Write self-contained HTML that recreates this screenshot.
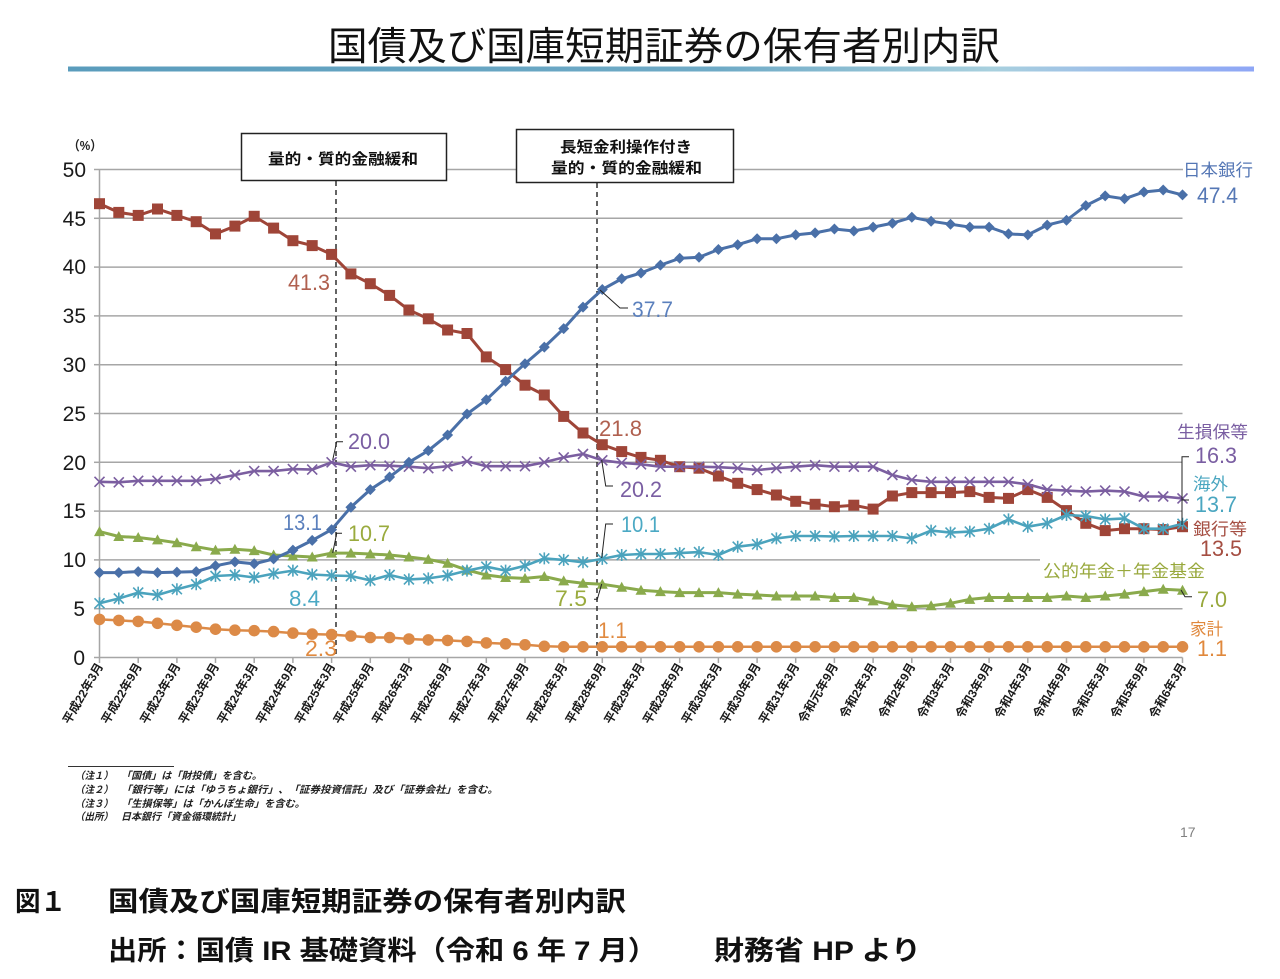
<!DOCTYPE html>
<html><head><meta charset="utf-8"><style>
html,body{margin:0;padding:0;background:#fff;}
svg{display:block;}
.jp{font-family:"Liberation Sans","Noto Sans CJK JP",sans-serif;}
.num{font-family:"Liberation Sans",sans-serif;}
</style></head><body>
<svg width="1280" height="979" viewBox="0 0 1280 979" xmlns="http://www.w3.org/2000/svg">
<defs>
<linearGradient id="bar" x1="0" x2="1" y1="0" y2="0">
<stop offset="0" stop-color="#5a9cbc"/><stop offset="0.55" stop-color="#6eaac6"/><stop offset="0.78" stop-color="#a8d0de"/><stop offset="1" stop-color="#8ea6f6"/>
</linearGradient>
<marker id="mSq" markerUnits="userSpaceOnUse" markerWidth="14" markerHeight="14" refX="7" refY="7" overflow="visible"><rect x="1.5" y="1.5" width="11" height="11" fill="#9f4538"/></marker>
<marker id="mDi" markerUnits="userSpaceOnUse" markerWidth="14" markerHeight="14" refX="7" refY="7" overflow="visible"><path d="M7 1.5 L12.5 7 L7 12.5 L1.5 7 Z" fill="#4a70a8"/></marker>
<marker id="mCi" markerUnits="userSpaceOnUse" markerWidth="14" markerHeight="14" refX="7" refY="7" overflow="visible"><circle cx="7" cy="7" r="5.8" fill="#dc8a47"/></marker>
<marker id="mTr" markerUnits="userSpaceOnUse" markerWidth="14" markerHeight="14" refX="7" refY="7" overflow="visible"><path d="M7 1.5 L12.5 11.5 L1.5 11.5 Z" fill="#8aaa4c"/></marker>
<marker id="mX" markerUnits="userSpaceOnUse" markerWidth="14" markerHeight="14" refX="7" refY="7" overflow="visible"><path d="M2 2 L12 12 M2 12 L12 2" stroke="#7b5ea0" stroke-width="1.6" fill="none"/></marker>
<marker id="mAs" markerUnits="userSpaceOnUse" markerWidth="14" markerHeight="14" refX="7" refY="7" overflow="visible"><path d="M2 2 L12 12 M2 12 L12 2 M7 1 L7 13" stroke="#4ba3bd" stroke-width="1.6" fill="none"/></marker>
</defs>

<!-- Title -->
<text x="328" y="60" class="jp" font-size="39" fill="#111" textLength="672" lengthAdjust="spacingAndGlyphs">国債及び国庫短期証券の保有者別内訳</text>
<rect x="68" y="66.5" width="1186" height="5" fill="url(#bar)"/>

<!-- gridlines -->
<g stroke="#a6a6a6" stroke-width="1.5">
<line x1="99.5" y1="608.7" x2="1182.5" y2="608.7"/>
<line x1="99.5" y1="559.9" x2="1040" y2="559.9"/>
<line x1="99.5" y1="511.1" x2="1182.5" y2="511.1"/>
<line x1="99.5" y1="462.3" x2="1182.5" y2="462.3"/>
<line x1="99.5" y1="413.5" x2="1182.5" y2="413.5"/>
<line x1="99.5" y1="364.7" x2="1182.5" y2="364.7"/>
<line x1="99.5" y1="315.9" x2="1182.5" y2="315.9"/>
<line x1="99.5" y1="267.1" x2="1182.5" y2="267.1"/>
<line x1="99.5" y1="218.3" x2="1182.5" y2="218.3"/>
<line x1="99.5" y1="169.5" x2="1183" y2="169.5"/>
<line x1="99.5" y1="169.5" x2="99.5" y2="657.5"/>
<line x1="99.5" y1="657.5" x2="1182.5" y2="657.5"/>
<line x1="94" y1="657.5" x2="99.5" y2="657.5"/><line x1="94" y1="608.7" x2="99.5" y2="608.7"/><line x1="94" y1="559.9" x2="99.5" y2="559.9"/><line x1="94" y1="511.1" x2="99.5" y2="511.1"/><line x1="94" y1="462.3" x2="99.5" y2="462.3"/><line x1="94" y1="413.5" x2="99.5" y2="413.5"/><line x1="94" y1="364.7" x2="99.5" y2="364.7"/><line x1="94" y1="315.9" x2="99.5" y2="315.9"/><line x1="94" y1="267.1" x2="99.5" y2="267.1"/><line x1="94" y1="218.3" x2="99.5" y2="218.3"/><line x1="94" y1="169.5" x2="99.5" y2="169.5"/>
</g>
<g stroke="#a6a6a6" stroke-width="1.5">
<line x1="99.5" y1="657.5" x2="99.5" y2="663"/><line x1="138.2" y1="657.5" x2="138.2" y2="663"/><line x1="176.9" y1="657.5" x2="176.9" y2="663"/><line x1="215.5" y1="657.5" x2="215.5" y2="663"/><line x1="254.2" y1="657.5" x2="254.2" y2="663"/><line x1="292.9" y1="657.5" x2="292.9" y2="663"/><line x1="331.6" y1="657.5" x2="331.6" y2="663"/><line x1="370.3" y1="657.5" x2="370.3" y2="663"/><line x1="408.9" y1="657.5" x2="408.9" y2="663"/><line x1="447.6" y1="657.5" x2="447.6" y2="663"/><line x1="486.3" y1="657.5" x2="486.3" y2="663"/><line x1="525" y1="657.5" x2="525" y2="663"/><line x1="563.7" y1="657.5" x2="563.7" y2="663"/><line x1="602.3" y1="657.5" x2="602.3" y2="663"/><line x1="641" y1="657.5" x2="641" y2="663"/><line x1="679.7" y1="657.5" x2="679.7" y2="663"/><line x1="718.4" y1="657.5" x2="718.4" y2="663"/><line x1="757.1" y1="657.5" x2="757.1" y2="663"/><line x1="795.7" y1="657.5" x2="795.7" y2="663"/><line x1="834.4" y1="657.5" x2="834.4" y2="663"/><line x1="873.1" y1="657.5" x2="873.1" y2="663"/><line x1="911.8" y1="657.5" x2="911.8" y2="663"/><line x1="950.5" y1="657.5" x2="950.5" y2="663"/><line x1="989.1" y1="657.5" x2="989.1" y2="663"/><line x1="1027.8" y1="657.5" x2="1027.8" y2="663"/><line x1="1066.5" y1="657.5" x2="1066.5" y2="663"/><line x1="1105.2" y1="657.5" x2="1105.2" y2="663"/><line x1="1143.9" y1="657.5" x2="1143.9" y2="663"/><line x1="1182.5" y1="657.5" x2="1182.5" y2="663"/>
</g>

<!-- y labels -->
<g class="num" font-size="21" fill="#1a1a1a" text-anchor="end">
<text x="85" y="665">0</text><text x="85" y="616">5</text><text x="86" y="567">10</text><text x="86" y="518">15</text><text x="86" y="470">20</text><text x="86" y="421">25</text><text x="86" y="372">30</text><text x="86" y="323">35</text><text x="86" y="274">40</text><text x="86" y="226">45</text><text x="86" y="177">50</text>
</g>
<text x="68" y="150" class="jp" font-size="13" font-weight="bold" fill="#222" textLength="34" lengthAdjust="spacingAndGlyphs">（%）</text>

<!-- dashed event lines -->
<g stroke="#222" stroke-width="1.4" stroke-dasharray="5,4">
<line x1="336" y1="181" x2="336" y2="657"/>
<line x1="597" y1="183" x2="597" y2="657"/>
</g>
<!-- boxes -->
<rect x="241.5" y="133.5" width="205" height="47" fill="#fff" stroke="#222" stroke-width="1.5"/>
<text x="268" y="164" class="jp" font-size="15" font-weight="bold" fill="#111" textLength="150" lengthAdjust="spacingAndGlyphs">量的・質的金融緩和</text>
<rect x="516.5" y="129.5" width="217" height="53" fill="#fff" stroke="#222" stroke-width="1.5"/>
<text x="560" y="152" class="jp" font-size="15" font-weight="bold" fill="#111" textLength="132" lengthAdjust="spacingAndGlyphs">長短金利操作付き</text>
<text x="551" y="173" class="jp" font-size="15" font-weight="bold" fill="#111" textLength="151" lengthAdjust="spacingAndGlyphs">量的・質的金融緩和</text>

<!-- series -->
<polyline fill="none" stroke="#dc8a47" stroke-width="2.5" marker-start="url(#mCi)" marker-mid="url(#mCi)" marker-end="url(#mCi)" points="99.5,619.4 118.8,620.4 138.2,621.4 157.5,623.3 176.9,625.3 196.2,627.2 215.5,629.2 234.9,630.2 254.2,630.7 273.6,631.6 292.9,633.1 312.2,634.1 331.6,634.6 350.9,636.0 370.3,637.5 389.6,637.5 408.9,639.0 428.3,639.9 447.6,640.4 467.0,641.4 486.3,642.9 505.6,643.8 525.0,644.8 544.3,646.3 563.7,646.8 583.0,646.8 602.3,646.8 621.7,646.8 641.0,646.8 660.4,646.8 679.7,646.8 699.0,646.8 718.4,646.8 737.7,646.8 757.1,646.8 776.4,646.8 795.7,646.8 815.1,646.8 834.4,646.8 853.8,646.8 873.1,646.8 892.4,646.8 911.8,646.8 931.1,646.8 950.5,646.8 969.8,646.8 989.1,646.8 1008.5,646.8 1027.8,646.8 1047.2,646.8 1066.5,646.8 1085.8,646.8 1105.2,646.8 1124.5,646.8 1143.9,646.8 1163.2,646.8 1182.5,646.8"/>
<polyline fill="none" stroke="#8aaa4c" stroke-width="3" marker-start="url(#mTr)" marker-mid="url(#mTr)" marker-end="url(#mTr)" points="99.5,531.6 118.8,536.5 138.2,537.5 157.5,539.9 176.9,542.8 196.2,546.7 215.5,550.1 234.9,549.2 254.2,550.6 273.6,555.0 292.9,556.0 312.2,557.0 331.6,553.1 350.9,553.1 370.3,554.0 389.6,555.0 408.9,557.0 428.3,559.4 447.6,563.3 467.0,570.1 486.3,575.0 505.6,577.5 525.0,578.4 544.3,576.5 563.7,580.9 583.0,583.3 602.3,584.3 621.7,587.2 641.0,590.2 660.4,591.6 679.7,592.6 699.0,592.6 718.4,592.6 737.7,594.1 757.1,595.0 776.4,596.0 795.7,596.0 815.1,596.0 834.4,597.5 853.8,597.5 873.1,600.9 892.4,604.8 911.8,606.7 931.1,605.8 950.5,603.3 969.8,599.4 989.1,597.5 1008.5,597.5 1027.8,597.5 1047.2,597.5 1066.5,596.0 1085.8,597.5 1105.2,596.0 1124.5,594.1 1143.9,591.6 1163.2,589.2 1182.5,590.2"/>
<polyline fill="none" stroke="#9f4538" stroke-width="3" marker-start="url(#mSq)" marker-mid="url(#mSq)" marker-end="url(#mSq)" points="99.5,203.7 118.8,212.4 138.2,215.4 157.5,209.0 176.9,215.4 196.2,221.7 215.5,233.9 234.9,226.1 254.2,216.3 273.6,228.1 292.9,240.7 312.2,245.6 331.6,254.4 350.9,273.9 370.3,283.7 389.6,295.4 408.9,310.0 428.3,318.8 447.6,330.0 467.0,333.5 486.3,356.9 505.6,369.6 525.0,385.2 544.3,395.0 563.7,416.4 583.0,433.0 602.3,444.7 621.7,451.6 641.0,457.4 660.4,460.3 679.7,466.7 699.0,468.2 718.4,476.0 737.7,483.3 757.1,489.6 776.4,495.0 795.7,501.3 815.1,504.3 834.4,506.7 853.8,505.2 873.1,509.1 892.4,496.0 911.8,492.6 931.1,492.6 950.5,492.6 969.8,491.6 989.1,497.4 1008.5,498.4 1027.8,489.6 1047.2,497.4 1066.5,510.6 1085.8,523.3 1105.2,530.6 1124.5,528.7 1143.9,528.7 1163.2,529.6 1182.5,526.7"/>
<polyline fill="none" stroke="#7b5ea0" stroke-width="2.6" stroke-linejoin="round" marker-start="url(#mX)" marker-mid="url(#mX)" marker-end="url(#mX)" points="99.5,481.8 118.8,482.3 138.2,480.8 157.5,480.8 176.9,480.8 196.2,480.8 215.5,478.9 234.9,475.0 254.2,471.1 273.6,471.1 292.9,469.1 312.2,469.6 331.6,462.3 350.9,466.7 370.3,465.2 389.6,465.7 408.9,466.7 428.3,468.2 447.6,466.2 467.0,461.3 486.3,466.2 505.6,466.2 525.0,466.2 544.3,462.3 563.7,457.4 583.0,454.0 602.3,460.3 621.7,462.8 641.0,464.3 660.4,466.7 679.7,466.7 699.0,466.7 718.4,467.2 737.7,468.2 757.1,470.1 776.4,468.2 795.7,466.7 815.1,465.2 834.4,466.7 853.8,466.7 873.1,466.7 892.4,475.0 911.8,479.9 931.1,481.8 950.5,481.8 969.8,481.8 989.1,481.8 1008.5,481.8 1027.8,484.3 1047.2,489.6 1066.5,490.6 1085.8,491.6 1105.2,490.6 1124.5,491.6 1143.9,496.5 1163.2,496.5 1182.5,498.4"/>
<polyline fill="none" stroke="#4ba3bd" stroke-width="2.6" stroke-linejoin="round" marker-start="url(#mAs)" marker-mid="url(#mAs)" marker-end="url(#mAs)" points="99.5,603.3 118.8,598.5 138.2,592.6 157.5,595.0 176.9,589.2 196.2,584.3 215.5,576.0 234.9,575.0 254.2,577.5 273.6,573.6 292.9,570.6 312.2,574.5 331.6,575.5 350.9,576.0 370.3,580.4 389.6,575.0 408.9,579.4 428.3,578.4 447.6,575.5 467.0,570.6 486.3,566.7 505.6,570.6 525.0,565.8 544.3,558.4 563.7,559.9 583.0,562.3 602.3,558.9 621.7,555.0 641.0,554.0 660.4,554.0 679.7,553.1 699.0,552.1 718.4,555.0 737.7,546.7 757.1,544.3 776.4,538.4 795.7,536.0 815.1,536.0 834.4,536.5 853.8,536.0 873.1,536.0 892.4,536.0 911.8,538.4 931.1,530.6 950.5,532.6 969.8,531.6 989.1,528.7 1008.5,519.4 1027.8,526.7 1047.2,523.3 1066.5,515.0 1085.8,516.0 1105.2,519.4 1124.5,518.4 1143.9,528.7 1163.2,528.7 1182.5,523.8"/>
<polyline fill="none" stroke="#4a70a8" stroke-width="3" marker-start="url(#mDi)" marker-mid="url(#mDi)" marker-end="url(#mDi)" points="99.5,572.6 118.8,572.6 138.2,571.6 157.5,572.6 176.9,572.1 196.2,571.6 215.5,565.8 234.9,561.9 254.2,563.8 273.6,558.9 292.9,550.1 312.2,540.4 331.6,529.6 350.9,507.2 370.3,489.6 389.6,477.0 408.9,462.3 428.3,450.6 447.6,435.0 467.0,414.0 486.3,399.8 505.6,381.3 525.0,363.7 544.3,347.1 563.7,328.6 583.0,307.1 602.3,289.5 621.7,278.8 641.0,273.0 660.4,265.1 679.7,258.3 699.0,257.3 718.4,249.5 737.7,244.7 757.1,238.8 776.4,238.8 795.7,234.9 815.1,232.9 834.4,229.0 853.8,231.0 873.1,227.1 892.4,223.2 911.8,217.3 931.1,221.2 950.5,224.2 969.8,227.1 989.1,227.1 1008.5,233.9 1027.8,234.9 1047.2,225.1 1066.5,220.3 1085.8,205.6 1105.2,195.9 1124.5,198.8 1143.9,192.0 1163.2,190.0 1182.5,194.9"/>

<!-- leader lines -->
<g stroke="#222" stroke-width="1" fill="none">
<polyline points="600,290 620,308 628,308"/>
<polyline points="332.7,460 336.7,441.7 343,441.7"/>
<polyline points="332.7,553 336.7,533.3 342,533.3"/>
<polyline points="601.7,460 605.7,486 613,486"/>
<polyline points="601.7,558 605.7,524 613,524"/>
<polyline points="601.7,584 597.3,599.3 594,599.3"/>
<polyline points="1189,456.7 1182,456.7 1182,525"/>
<line x1="1182" y1="500" x2="1189" y2="500"/>
<polyline points="1181,590 1185,596.7 1192,596.7"/>
</g>

<!-- value labels -->
<g class="num" font-size="22">
<text x="288" y="290" fill="#b0604f" textLength="42" lengthAdjust="spacingAndGlyphs">41.3</text>
<text x="599" y="436" fill="#b0604f" textLength="43" lengthAdjust="spacingAndGlyphs">21.8</text>
<text x="632" y="317" fill="#5b80bd" textLength="41" lengthAdjust="spacingAndGlyphs">37.7</text>
<text x="283" y="530" fill="#5b80bd" textLength="39" lengthAdjust="spacingAndGlyphs">13.1</text>
<text x="348" y="449" fill="#7a5ea2" textLength="42" lengthAdjust="spacingAndGlyphs">20.0</text>
<text x="620" y="497" fill="#7a5ea2" textLength="42" lengthAdjust="spacingAndGlyphs">20.2</text>
<text x="348" y="541" fill="#9aab3e" textLength="42" lengthAdjust="spacingAndGlyphs">10.7</text>
<text x="555" y="606" fill="#9aab3e" textLength="32" lengthAdjust="spacingAndGlyphs">7.5</text>
<text x="289" y="606" fill="#4ba9c4" textLength="31" lengthAdjust="spacingAndGlyphs">8.4</text>
<text x="621" y="532" fill="#4ba9c4" textLength="39" lengthAdjust="spacingAndGlyphs">10.1</text>
<text x="305" y="656" fill="#e08a40" textLength="32" lengthAdjust="spacingAndGlyphs">2.3</text>
<text x="598" y="638" fill="#e08a40" textLength="29" lengthAdjust="spacingAndGlyphs">1.1</text>
<text x="1197" y="203" fill="#5577b5" textLength="41" lengthAdjust="spacingAndGlyphs">47.4</text>
<text x="1195" y="463" fill="#7a5ea2" textLength="42" lengthAdjust="spacingAndGlyphs">16.3</text>
<text x="1195" y="512" fill="#4aa6c0" textLength="42" lengthAdjust="spacingAndGlyphs">13.7</text>
<text x="1200" y="556" fill="#a54e42" textLength="42" lengthAdjust="spacingAndGlyphs">13.5</text>
<text x="1197" y="607" fill="#98a83c" textLength="30" lengthAdjust="spacingAndGlyphs">7.0</text>
<text x="1197" y="656" fill="#e0883c" textLength="30" lengthAdjust="spacingAndGlyphs">1.1</text>
</g>
<g class="jp" font-size="17">
<text x="1183" y="176" fill="#5577b5" textLength="70" lengthAdjust="spacingAndGlyphs">日本銀行</text>
<text x="1177" y="438" fill="#7a5ea2" textLength="71" lengthAdjust="spacingAndGlyphs">生損保等</text>
<text x="1193" y="490" fill="#4aa6c0" textLength="35" lengthAdjust="spacingAndGlyphs">海外</text>
<text x="1193" y="535" fill="#a54e42" textLength="54" lengthAdjust="spacingAndGlyphs">銀行等</text>
<text x="1043" y="577" fill="#98a83c" textLength="162" lengthAdjust="spacingAndGlyphs">公的年金＋年金基金</text>
<text x="1190" y="635" fill="#e0883c" textLength="33" lengthAdjust="spacingAndGlyphs">家計</text>
</g>

<!-- x labels -->
<g class="jp" font-size="12" font-weight="bold" fill="#1a1a1a" text-anchor="end">
<text transform="translate(103.5,666) rotate(-60)">平成22年3月</text>
<text transform="translate(142.2,666) rotate(-60)">平成22年9月</text>
<text transform="translate(180.9,666) rotate(-60)">平成23年3月</text>
<text transform="translate(219.5,666) rotate(-60)">平成23年9月</text>
<text transform="translate(258.2,666) rotate(-60)">平成24年3月</text>
<text transform="translate(296.9,666) rotate(-60)">平成24年9月</text>
<text transform="translate(335.6,666) rotate(-60)">平成25年3月</text>
<text transform="translate(374.3,666) rotate(-60)">平成25年9月</text>
<text transform="translate(412.9,666) rotate(-60)">平成26年3月</text>
<text transform="translate(451.6,666) rotate(-60)">平成26年9月</text>
<text transform="translate(490.3,666) rotate(-60)">平成27年3月</text>
<text transform="translate(529,666) rotate(-60)">平成27年9月</text>
<text transform="translate(567.7,666) rotate(-60)">平成28年3月</text>
<text transform="translate(606.3,666) rotate(-60)">平成28年9月</text>
<text transform="translate(645,666) rotate(-60)">平成29年3月</text>
<text transform="translate(683.7,666) rotate(-60)">平成29年9月</text>
<text transform="translate(722.4,666) rotate(-60)">平成30年3月</text>
<text transform="translate(761.1,666) rotate(-60)">平成30年9月</text>
<text transform="translate(799.7,666) rotate(-60)">平成31年3月</text>
<text transform="translate(838.4,666) rotate(-60)">令和元年9月</text>
<text transform="translate(877.1,666) rotate(-60)">令和2年3月</text>
<text transform="translate(915.8,666) rotate(-60)">令和2年9月</text>
<text transform="translate(954.5,666) rotate(-60)">令和3年3月</text>
<text transform="translate(993.1,666) rotate(-60)">令和3年9月</text>
<text transform="translate(1031.8,666) rotate(-60)">令和4年3月</text>
<text transform="translate(1070.5,666) rotate(-60)">令和4年9月</text>
<text transform="translate(1109.2,666) rotate(-60)">令和5年3月</text>
<text transform="translate(1147.9,666) rotate(-60)">令和5年9月</text>
<text transform="translate(1186.5,666) rotate(-60)">令和6年3月</text>
</g>

<!-- footnotes -->
<line x1="68" y1="766.5" x2="174" y2="766.5" stroke="#333" stroke-width="1"/>
<g class="jp" font-size="10" font-style="italic" font-weight="bold" fill="#222">
<text x="75" y="779" textLength="38" lengthAdjust="spacingAndGlyphs">（注１）</text><text x="121" y="779" textLength="141" lengthAdjust="spacingAndGlyphs">「国債」は「財投債」を含む。</text>
<text x="75" y="793" textLength="38" lengthAdjust="spacingAndGlyphs">（注２）</text><text x="121" y="793" textLength="377" lengthAdjust="spacingAndGlyphs">「銀行等」には「ゆうちょ銀行」、「証券投資信託」及び「証券会社」を含む。</text>
<text x="75" y="807" textLength="38" lengthAdjust="spacingAndGlyphs">（注３）</text><text x="121" y="807" textLength="184" lengthAdjust="spacingAndGlyphs">「生損保等」は「かんぽ生命」を含む。</text>
<text x="75" y="820" textLength="38" lengthAdjust="spacingAndGlyphs">（出所）</text><text x="121" y="820" textLength="120" lengthAdjust="spacingAndGlyphs">日本銀行「資金循環統計」</text>
</g>
<text x="1180" y="837" class="num" font-size="14" fill="#808080">17</text>

<!-- caption -->
<g class="jp" font-size="27" font-weight="bold" fill="#111">
<text x="15" y="911" textLength="51" lengthAdjust="spacingAndGlyphs">図１</text>
<text x="108" y="911" textLength="518" lengthAdjust="spacingAndGlyphs">国債及び国庫短期証券の保有者別内訳</text>
<text x="108" y="960" textLength="549" lengthAdjust="spacingAndGlyphs">出所：国債 IR 基礎資料（令和 6 年 7 月）</text>
<text x="714" y="960" textLength="207" lengthAdjust="spacingAndGlyphs">財務省 HP より</text>
</g>
</svg>
</body></html>
